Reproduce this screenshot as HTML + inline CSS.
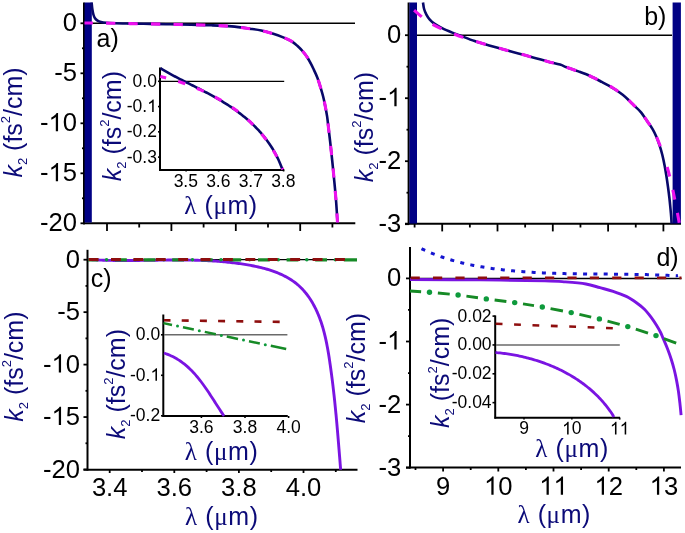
<!DOCTYPE html>
<html><head><meta charset="utf-8"><title>k2 dispersion plots</title>
<style>
html,body{margin:0;padding:0;background:#fff;}
svg{display:block;will-change:transform;filter:blur(0.35px);}
text{font-family:"Liberation Sans", sans-serif;}
</style></head>
<body>
<svg width="685" height="533" viewBox="0 0 685 533" font-family="Liberation Sans, sans-serif">
<rect width="685" height="533" fill="#fff"/>
<g id="pa">
<line x1="80.5" y1="23.3" x2="85" y2="23.3" stroke="#000" stroke-width="1.8" />
<text x="77" y="31.3" font-size="25.6" text-anchor="end" fill="#000" >0</text>
<line x1="82" y1="48.3" x2="85" y2="48.3" stroke="#000" stroke-width="1.8" />
<line x1="80.5" y1="73.3" x2="85" y2="73.3" stroke="#000" stroke-width="1.8" />
<text x="77" y="81.3" font-size="25.6" text-anchor="end" fill="#000" >-5</text>
<line x1="82" y1="98.3" x2="85" y2="98.3" stroke="#000" stroke-width="1.8" />
<line x1="80.5" y1="123.3" x2="85" y2="123.3" stroke="#000" stroke-width="1.8" />
<text x="40" y="131.3" font-size="25.6" fill="#000" >- 0</text>
<path d="M763,0 L583,0 L583,1147 Q518,1085 412.5,1023 Q307,961 223,930 L223,1104 Q374,1175 487,1276 Q600,1377 647,1472 L763,1472 Z" transform="translate(48.52,131.3) scale(0.01250,-0.01250)" fill="#000"/>
<line x1="82" y1="148.3" x2="85" y2="148.3" stroke="#000" stroke-width="1.8" />
<line x1="80.5" y1="173.3" x2="85" y2="173.3" stroke="#000" stroke-width="1.8" />
<text x="40" y="181.3" font-size="25.6" fill="#000" >- 5</text>
<path d="M763,0 L583,0 L583,1147 Q518,1085 412.5,1023 Q307,961 223,930 L223,1104 Q374,1175 487,1276 Q600,1377 647,1472 L763,1472 Z" transform="translate(48.52,181.3) scale(0.01250,-0.01250)" fill="#000"/>
<line x1="82" y1="198.3" x2="85" y2="198.3" stroke="#000" stroke-width="1.8" />
<line x1="80.5" y1="223.3" x2="85" y2="223.3" stroke="#000" stroke-width="1.8" />
<text x="77" y="231.3" font-size="25.6" text-anchor="end" fill="#000" >-20</text>
<line x1="107" y1="223" x2="107" y2="231" stroke="#000" stroke-width="1.8" />
<line x1="139.2" y1="223" x2="139.2" y2="227.5" stroke="#000" stroke-width="1.8" />
<line x1="171.4" y1="223" x2="171.4" y2="231" stroke="#000" stroke-width="1.8" />
<line x1="203.6" y1="223" x2="203.6" y2="227.5" stroke="#000" stroke-width="1.8" />
<line x1="235.8" y1="223" x2="235.8" y2="231" stroke="#000" stroke-width="1.8" />
<line x1="268" y1="223" x2="268" y2="227.5" stroke="#000" stroke-width="1.8" />
<line x1="300.2" y1="223" x2="300.2" y2="231" stroke="#000" stroke-width="1.8" />
<line x1="332.4" y1="223" x2="332.4" y2="227.5" stroke="#000" stroke-width="1.8" />
<line x1="84" y1="2.5" x2="84" y2="224.2" stroke="#000" stroke-width="2" />
<line x1="83" y1="223.3" x2="355.3" y2="223.3" stroke="#000" stroke-width="2" />
<line x1="85" y1="23.3" x2="355" y2="23.3" stroke="#000" stroke-width="1.5" />
<rect x="84.6" y="2.5" width="7.2" height="220" fill="#010184"/>
<path d="M91.6,2.5 C91.72,3.58 92,7 92.3,9 C92.6,11 92.95,12.97 93.4,14.5 C93.85,16.03 94.32,17.18 95,18.2 C95.68,19.22 96.5,19.97 97.5,20.6 C98.5,21.23 99.58,21.63 101,22 C102.42,22.37 103.67,22.58 106,22.8 C108.33,23.02 111,23.17 115,23.3 C119,23.43 124.17,23.5 130,23.6 C135.83,23.7 143.27,23.78 150,23.9 C156.73,24.02 163.58,24.15 170.4,24.3 C177.22,24.45 184.08,24.63 190.9,24.8 C197.72,24.97 204.5,25.03 211.3,25.3 C218.1,25.57 225.25,25.83 231.7,26.4 C238.15,26.97 245.07,28.02 250,28.7 C254.93,29.38 257.55,29.68 261.3,30.5 C265.05,31.32 268.75,32.42 272.5,33.6 C276.25,34.78 280.6,36.3 283.8,37.6 C287,38.9 289.45,40.03 291.7,41.4 C293.95,42.77 295.43,44.12 297.3,45.8 C299.17,47.48 301.22,49.55 302.9,51.5 C304.58,53.45 306.12,55.55 307.4,57.5 C308.68,59.45 309.6,61.32 310.6,63.2 C311.6,65.08 312.28,66.42 313.4,68.8 C314.52,71.18 316.1,74.37 317.3,77.5 C318.5,80.63 319.62,84.4 320.6,87.6 C321.58,90.8 322.43,93.65 323.2,96.7 C323.97,99.75 324.55,102.62 325.2,105.9 C325.85,109.18 326.57,112.88 327.1,116.4 C327.63,119.92 327.85,122.43 328.4,127 C328.95,131.57 329.73,137.88 330.4,143.8 C331.07,149.72 331.75,156.25 332.4,162.5 C333.05,168.75 333.7,175.05 334.3,181.3 C334.9,187.55 335.47,193.13 336,200 C336.53,206.87 337.25,218.75 337.5,222.5" fill="none" stroke="#08086a" stroke-width="2.6" />
<path d="M84.5,23 C87.08,23 94.92,22.95 100,23 C105.08,23.05 110,23.2 115,23.3 C120,23.4 124.17,23.5 130,23.6 C135.83,23.7 143.27,23.78 150,23.9 C156.73,24.02 163.58,24.15 170.4,24.3 C177.22,24.45 184.08,24.63 190.9,24.8 C197.72,24.97 204.5,25.03 211.3,25.3 C218.1,25.57 225.25,25.83 231.7,26.4 C238.15,26.97 245.07,28.02 250,28.7 C254.93,29.38 257.55,29.68 261.3,30.5 C265.05,31.32 268.75,32.42 272.5,33.6 C276.25,34.78 280.6,36.3 283.8,37.6 C287,38.9 289.45,40.03 291.7,41.4 C293.95,42.77 295.43,44.12 297.3,45.8 C299.17,47.48 301.22,49.55 302.9,51.5 C304.58,53.45 306.12,55.55 307.4,57.5 C308.68,59.45 309.6,61.32 310.6,63.2 C311.6,65.08 312.93,67.87 313.4,68.8" fill="none" stroke="#ee11ee" stroke-width="3.1" stroke-dasharray="9.3 13.2" stroke-dashoffset="0.97"/>
<path d="M313.4,68.8 C314.05,70.25 316.1,74.37 317.3,77.5 C318.5,80.63 319.62,84.4 320.6,87.6 C321.58,90.8 322.43,93.65 323.2,96.7 C323.97,99.75 324.55,102.62 325.2,105.9 C325.85,109.18 326.57,112.88 327.1,116.4 C327.63,119.92 327.85,122.43 328.4,127 C328.95,131.57 329.73,137.88 330.4,143.8 C331.07,149.72 331.75,156.25 332.4,162.5 C333.05,168.75 333.7,175.05 334.3,181.3 C334.9,187.55 335.47,193.13 336,200 C336.53,206.87 337.25,218.75 337.5,222.5" fill="none" stroke="#ee11ee" stroke-width="3.1" stroke-dasharray="9.3 13.2" stroke-dashoffset="10.46"/>
<text x="96.5" y="47.2" font-size="25">a)</text>
<text transform="translate(22,177.6) rotate(-90)" font-size="25" fill="#0b0a78" ><tspan font-style="italic">k</tspan><tspan font-size="13" dy="5">2</tspan><tspan dy="-5"> (fs</tspan><tspan font-size="13" dy="-12">2</tspan><tspan dy="12">/cm)</tspan></text>
</g>
<g id="ia">
<line x1="158" y1="81.3" x2="160.5" y2="81.3" stroke="#000" stroke-width="1.6" />
<text x="156.9" y="86.7" font-size="17.5" text-anchor="end" fill="#000" >0.0</text>
<line x1="158" y1="106.57" x2="160.5" y2="106.57" stroke="#000" stroke-width="1.6" />
<text x="126.74" y="111.97" font-size="17.5" fill="#000" >-0. </text>
<path d="M763,0 L583,0 L583,1147 Q518,1085 412.5,1023 Q307,961 223,930 L223,1104 Q374,1175 487,1276 Q600,1377 647,1472 L763,1472 Z" transform="translate(147.17,111.97) scale(0.00854,-0.00854)" fill="#000"/>
<line x1="158" y1="131.84" x2="160.5" y2="131.84" stroke="#000" stroke-width="1.6" />
<text x="156.9" y="137.24" font-size="17.5" text-anchor="end" fill="#000" >-0.2</text>
<line x1="158" y1="157.11" x2="160.5" y2="157.11" stroke="#000" stroke-width="1.6" />
<text x="156.9" y="162.51" font-size="17.5" text-anchor="end" fill="#000" >-0.3</text>
<line x1="186.1" y1="169.5" x2="186.1" y2="171.5" stroke="#000" stroke-width="1.6" />
<text x="185.8" y="187.4" font-size="17.5" text-anchor="middle" fill="#000" >3.5</text>
<line x1="218.6" y1="169.5" x2="218.6" y2="171.5" stroke="#000" stroke-width="1.6" />
<text x="218.3" y="187.4" font-size="17.5" text-anchor="middle" fill="#000" >3.6</text>
<line x1="251.1" y1="169.5" x2="251.1" y2="171.5" stroke="#000" stroke-width="1.6" />
<text x="250.8" y="187.4" font-size="17.5" text-anchor="middle" fill="#000" >3.7</text>
<line x1="283.6" y1="169.5" x2="283.6" y2="171.5" stroke="#000" stroke-width="1.6" />
<text x="283.3" y="187.4" font-size="17.5" text-anchor="middle" fill="#000" >3.8</text>
<line x1="160" y1="67.5" x2="160" y2="170.9" stroke="#000" stroke-width="2" />
<line x1="159" y1="169.9" x2="284.2" y2="169.9" stroke="#000" stroke-width="2" />
<line x1="161" y1="81.3" x2="284.2" y2="81.3" stroke="#000" stroke-width="1.3" />
<path d="M160.6,68.1 L161.87,69.14 L163.16,69.9 L164.45,70.65 L165.75,71.4 L167.06,72.14 L168.38,72.88 L169.7,73.61 L171.02,74.33 L172.35,75.05 L173.68,75.77 L175.02,76.48 L176.36,77.19 L177.71,77.89 L179.06,78.59 L180.41,79.29 L181.76,79.99 L183.12,80.68 L184.48,81.37 L185.84,82.06 L187.2,82.75 L188.57,83.44 L189.93,84.13 L191.3,84.82 L192.66,85.51 L194.03,86.2 L195.4,86.89 L196.76,87.58 L198.13,88.28 L199.49,88.97 L200.86,89.67 L202.22,90.38 L203.58,91.08 L204.94,91.79 L206.29,92.5 L207.65,93.22 L209,93.94 L210.34,94.67 L211.69,95.4 L213.03,96.13 L214.36,96.88 L215.69,97.63 L217.02,98.38 L218.34,99.15 L219.66,99.92 L220.97,100.69 L222.27,101.48 L223.57,102.27 L224.87,103.07 L226.15,103.88 L227.43,104.7 L228.71,105.53 L229.97,106.36 L231.23,107.2 L232.49,108.06 L233.73,108.92 L234.97,109.79 L236.19,110.67 L237.41,111.56 L238.63,112.46 L239.83,113.37 L241.02,114.29 L242.21,115.22 L243.38,116.16 L244.55,117.11 L245.71,118.07 L246.85,119.04 L247.99,120.02 L249.11,121.01 L250.23,122.02 L251.33,123.03 L252.43,124.06 L253.51,125.1 L254.58,126.15 L255.64,127.21 L256.68,128.29 L257.72,129.37 L258.74,130.47 L259.75,131.59 L260.75,132.71 L261.73,133.85 L262.7,135 L263.66,136.16 L264.6,137.34 L265.53,138.53 L266.45,139.73 L267.35,140.95 L268.24,142.18 L269.11,143.43 L269.97,144.69 L270.81,145.96 L271.63,147.25 L272.45,148.55 L273.24,149.87 L274.02,151.21 L274.78,152.56 L275.53,153.92 L276.26,155.3 L276.97,156.69 L277.67,158.1 L278.35,159.53 L279.01,160.97 L279.65,162.43 L280.28,163.91 L280.89,165.4 L281.48,166.91 L282.05,168.43 L282.9,169.3" fill="none" stroke="#08086a" stroke-width="2.6" />
<path d="M160.3,76.3 L161.75,76.86 L163.22,77.22 L164.68,77.59 L166.14,77.97 L167.6,78.36 L169.06,78.75 L170.52,79.16 L171.98,79.58 L173.44,80.01 L174.9,80.44 L176.35,80.89 L177.8,81.34 L179.26,81.81 L180.7,82.28 L182.15,82.77 L183.6,83.26 L185.04,83.76 L186.48,84.28 L187.91,84.8 L189.34,85.33 L190.77,85.87 L192.2,86.43 L193.62,86.99 L195.04,87.56 L196.46,88.14 L197.87,88.74 L199.27,89.34 L200.68,89.95 L202.07,90.57 L203.47,91.2 L204.86,91.85 L206.24,92.5 L207.62,93.16 L208.99,93.83 L210.36,94.52 L211.72,95.21 L213.08,95.91 L214.42,96.63 L215.77,97.35 L217.11,98.09 L218.44,98.83 L219.76,99.59 L221.08,100.36 L222.39,101.13 L223.69,101.92 L224.99,102.72 L226.28,103.53 L227.56,104.35 L228.83,105.18 L230.1,106.02 L231.35,106.87 L232.6,107.73 L233.84,108.6 L235.07,109.49 L236.3,110.38 L237.51,111.29 L238.72,112.2 L239.91,113.13 L241.1,114.07 L242.28,115.02 L243.44,115.98 L244.6,116.95 L245.75,117.94 L246.89,118.93 L248.01,119.94 L249.13,120.95 L250.23,121.98 L251.33,123.02 L252.41,124.07 L253.48,125.13 L254.55,126.2 L255.6,127.29 L256.63,128.38 L257.66,129.49 L258.67,130.61 L259.68,131.74 L260.67,132.88 L261.64,134.04 L262.61,135.2 L263.56,136.38 L264.5,137.57 L265.42,138.77 L266.34,139.98 L267.23,141.21 L268.12,142.44 L268.99,143.69 L269.85,144.95 L270.69,146.22 L271.52,147.5 L272.34,148.8 L273.14,150.11 L273.92,151.42 L274.69,152.76 L275.45,154.1 L276.19,155.46 L276.91,156.82 L277.62,158.2 L278.32,159.6 L278.99,161 L279.66,162.42 L280.3,163.85 L280.93,165.29 L281.54,166.74 L282.14,168.21 L282.9,169.3" fill="none" stroke="#ee11ee" stroke-width="3.1" stroke-dasharray="7.5 12.5" stroke-dashoffset="1.45"/>
<text transform="translate(121,181.3) rotate(-90)" font-size="25" fill="#0b0a78" ><tspan font-style="italic">k</tspan><tspan font-size="13" dy="5">2</tspan><tspan dy="-5"> (fs</tspan><tspan font-size="13" dy="-12">2</tspan><tspan dy="12">/cm)</tspan></text>
<text x="184.2" y="213.5" font-size="25" fill="#0b0a78" letter-spacing="0.6" ><tspan font-family="Liberation Serif">λ</tspan> (<tspan font-family="Liberation Serif">μ</tspan>m)</text>
</g>
<g id="pb">
<line x1="405" y1="35.2" x2="409" y2="35.2" stroke="#000" stroke-width="1.8" />
<text x="401.3" y="43.2" font-size="25.6" text-anchor="end" fill="#000" >0</text>
<line x1="406.5" y1="66.7" x2="409" y2="66.7" stroke="#000" stroke-width="1.8" />
<line x1="405" y1="98.2" x2="409" y2="98.2" stroke="#000" stroke-width="1.8" />
<text x="378.54" y="106.2" font-size="25.6" fill="#000" >- </text>
<path d="M763,0 L583,0 L583,1147 Q518,1085 412.5,1023 Q307,961 223,930 L223,1104 Q374,1175 487,1276 Q600,1377 647,1472 L763,1472 Z" transform="translate(387.06,106.2) scale(0.01250,-0.01250)" fill="#000"/>
<line x1="406.5" y1="129.7" x2="409" y2="129.7" stroke="#000" stroke-width="1.8" />
<line x1="405" y1="161.2" x2="409" y2="161.2" stroke="#000" stroke-width="1.8" />
<text x="401.3" y="169.2" font-size="25.6" text-anchor="end" fill="#000" >-2</text>
<line x1="406.5" y1="192.7" x2="409" y2="192.7" stroke="#000" stroke-width="1.8" />
<line x1="405" y1="224.2" x2="409" y2="224.2" stroke="#000" stroke-width="1.8" />
<text x="401.3" y="232.2" font-size="25.6" text-anchor="end" fill="#000" >-3</text>
<line x1="442.2" y1="223.5" x2="442.2" y2="231.4" stroke="#000" stroke-width="1.8" />
<line x1="469.85" y1="223.5" x2="469.85" y2="227.5" stroke="#000" stroke-width="1.8" />
<line x1="497.5" y1="223.5" x2="497.5" y2="231.4" stroke="#000" stroke-width="1.8" />
<line x1="525.15" y1="223.5" x2="525.15" y2="227.5" stroke="#000" stroke-width="1.8" />
<line x1="552.8" y1="223.5" x2="552.8" y2="231.4" stroke="#000" stroke-width="1.8" />
<line x1="580.45" y1="223.5" x2="580.45" y2="227.5" stroke="#000" stroke-width="1.8" />
<line x1="608.1" y1="223.5" x2="608.1" y2="231.4" stroke="#000" stroke-width="1.8" />
<line x1="635.75" y1="223.5" x2="635.75" y2="227.5" stroke="#000" stroke-width="1.8" />
<line x1="663.4" y1="223.5" x2="663.4" y2="231.4" stroke="#000" stroke-width="1.8" />
<line x1="414.6" y1="223.5" x2="414.6" y2="227.5" stroke="#000" stroke-width="1.8" />
<line x1="408.6" y1="2.5" x2="408.6" y2="224.5" stroke="#000" stroke-width="2" />
<line x1="405" y1="223.7" x2="681" y2="223.7" stroke="#000" stroke-width="2" />
<line x1="417" y1="35.2" x2="672" y2="35.2" stroke="#000" stroke-width="1.5" />
<rect x="409.4" y="2.5" width="7.6" height="221" fill="#010184"/>
<rect x="672.6" y="2.5" width="8.3" height="221" fill="#010184"/>
<path d="M423,2.5 C423.18,3.58 423.53,6.98 424.1,9 C424.67,11.02 425.45,12.82 426.4,14.6 C427.35,16.38 428.48,18.2 429.8,19.7 C431.12,21.2 432.25,22.2 434.3,23.6 C436.35,25 439.1,26.6 442.1,28.1 C445.1,29.6 449.32,31.37 452.3,32.6 C455.28,33.83 456.28,34.08 460,35.5 C463.72,36.92 469.73,39.45 474.6,41.1 C479.47,42.75 484.33,44 489.2,45.4 C494.07,46.8 498.93,48.15 503.8,49.5 C508.67,50.85 513.53,52.18 518.4,53.5 C523.27,54.82 528.13,56.07 533,57.4 C537.87,58.73 543.1,60.3 547.6,61.5 C552.1,62.7 556.82,63.63 560,64.6 C563.18,65.57 563.63,66.17 566.7,67.3 C569.77,68.43 574.52,69.95 578.4,71.4 C582.28,72.85 586.12,74.25 590,76 C593.88,77.75 597.8,79.85 601.7,81.9 C605.6,83.95 609.9,86.17 613.4,88.3 C616.9,90.43 619.98,92.57 622.7,94.7 C625.42,96.83 627.65,99.15 629.7,101.1 C631.75,103.05 633.15,104.57 635,106.4 C636.85,108.23 638.75,109.62 640.8,112.1 C642.85,114.58 645.33,118.47 647.3,121.3 C649.27,124.13 651.07,126.48 652.6,129.1 C654.13,131.72 655.3,134.15 656.5,137 C657.7,139.85 658.82,143.17 659.8,146.2 C660.78,149.23 661.6,151.98 662.4,155.2 C663.2,158.42 663.93,162.03 664.6,165.5 C665.27,168.97 665.83,172.42 666.4,176 C666.97,179.58 667.5,183.33 668,187 C668.5,190.67 668.98,194.33 669.4,198 C669.82,201.67 670.2,205.83 670.5,209 C670.8,212.17 671.02,214.55 671.2,217 C671.38,219.45 671.53,222.58 671.6,223.7" fill="none" stroke="#08086a" stroke-width="2.6" />
<path d="M409.5,6.3 C411,7.6 415.92,11.88 418.5,14.1 C421.08,16.32 422.83,17.98 425,19.6 C427.17,21.22 428.92,22.33 431.5,23.8 C434.08,25.27 436.75,26.7 440.5,28.4 C444.25,30.1 450.25,32.5 454,34 C457.75,35.5 459.57,36.22 463,37.4 C466.43,38.58 470.23,39.77 474.6,41.1 C478.97,42.43 484.33,44 489.2,45.4 C494.07,46.8 498.93,48.15 503.8,49.5 C508.67,50.85 513.53,52.18 518.4,53.5 C523.27,54.82 528.13,56.07 533,57.4 C537.87,58.73 543.1,60.3 547.6,61.5 C552.1,62.7 556.82,63.63 560,64.6 C563.18,65.57 563.63,66.17 566.7,67.3 C569.77,68.43 574.52,69.95 578.4,71.4 C582.28,72.85 586.12,74.25 590,76 C593.88,77.75 597.8,79.85 601.7,81.9 C605.6,83.95 609.9,86.17 613.4,88.3 C616.9,90.43 619.98,92.57 622.7,94.7 C625.42,96.83 627.65,99.15 629.7,101.1 C631.75,103.05 633.15,104.57 635,106.4 C636.85,108.23 638.75,109.62 640.8,112.1 C642.85,114.58 645.33,118.47 647.3,121.3 C649.27,124.13 651.07,126.48 652.6,129.1 C654.13,131.72 655.22,134.13 656.5,137 C657.78,139.87 659.17,143.3 660.3,146.3 C661.43,149.3 662.8,153.55 663.3,155" fill="none" stroke="#ee11ee" stroke-width="3.1" stroke-dasharray="9.9 13.6" stroke-dashoffset="17.52"/>
<path d="M663.3,155 C663.83,156.67 665.5,161.7 666.5,165 C667.5,168.3 668.38,171.3 669.3,174.8 C670.22,178.3 671.17,182.25 672,186 C672.83,189.75 673.55,193.63 674.3,197.3 C675.05,200.97 675.8,204.42 676.5,208 C677.2,211.58 678.03,216.27 678.5,218.8 C678.97,221.33 679.17,222.47 679.3,223.2" fill="none" stroke="#ee11ee" stroke-width="3.1" stroke-dasharray="9.9 13.6" stroke-dashoffset="10.88"/>
<text x="644.2" y="24.8" font-size="25">b)</text>
<text transform="translate(372.6,182.2) rotate(-90)" font-size="25" fill="#0b0a78" ><tspan font-style="italic">k</tspan><tspan font-size="13" dy="5">2</tspan><tspan dy="-5"> (fs</tspan><tspan font-size="13" dy="-12">2</tspan><tspan dy="12">/cm)</tspan></text>
</g>
<g id="pc">
<line x1="83.5" y1="259.7" x2="87.5" y2="259.7" stroke="#000" stroke-width="1.8" />
<text x="80" y="267.7" font-size="25.6" text-anchor="end" fill="#000" >0</text>
<line x1="85.5" y1="285.93" x2="87.5" y2="285.93" stroke="#000" stroke-width="1.8" />
<line x1="83.5" y1="312.15" x2="87.5" y2="312.15" stroke="#000" stroke-width="1.8" />
<text x="80" y="320.15" font-size="25.6" text-anchor="end" fill="#000" >-5</text>
<line x1="85.5" y1="338.38" x2="87.5" y2="338.38" stroke="#000" stroke-width="1.8" />
<line x1="83.5" y1="364.6" x2="87.5" y2="364.6" stroke="#000" stroke-width="1.8" />
<text x="43" y="372.6" font-size="25.6" fill="#000" >- 0</text>
<path d="M763,0 L583,0 L583,1147 Q518,1085 412.5,1023 Q307,961 223,930 L223,1104 Q374,1175 487,1276 Q600,1377 647,1472 L763,1472 Z" transform="translate(51.52,372.6) scale(0.01250,-0.01250)" fill="#000"/>
<line x1="85.5" y1="390.83" x2="87.5" y2="390.83" stroke="#000" stroke-width="1.8" />
<line x1="83.5" y1="417.05" x2="87.5" y2="417.05" stroke="#000" stroke-width="1.8" />
<text x="43" y="425.05" font-size="25.6" fill="#000" >- 5</text>
<path d="M763,0 L583,0 L583,1147 Q518,1085 412.5,1023 Q307,961 223,930 L223,1104 Q374,1175 487,1276 Q600,1377 647,1472 L763,1472 Z" transform="translate(51.52,425.05) scale(0.01250,-0.01250)" fill="#000"/>
<line x1="85.5" y1="443.28" x2="87.5" y2="443.28" stroke="#000" stroke-width="1.8" />
<line x1="83.5" y1="469.5" x2="87.5" y2="469.5" stroke="#000" stroke-width="1.8" />
<text x="80" y="477.5" font-size="25.6" text-anchor="end" fill="#000" >-20</text>
<line x1="109.7" y1="469" x2="109.7" y2="473" stroke="#000" stroke-width="1.8" />
<line x1="142" y1="469" x2="142" y2="472" stroke="#000" stroke-width="1.8" />
<text x="109.7" y="496" font-size="25.6" text-anchor="middle" fill="#000" >3.4</text>
<line x1="174.3" y1="469" x2="174.3" y2="473" stroke="#000" stroke-width="1.8" />
<line x1="206.6" y1="469" x2="206.6" y2="472" stroke="#000" stroke-width="1.8" />
<text x="174.3" y="496" font-size="25.6" text-anchor="middle" fill="#000" >3.6</text>
<line x1="238.9" y1="469" x2="238.9" y2="473" stroke="#000" stroke-width="1.8" />
<line x1="271.2" y1="469" x2="271.2" y2="472" stroke="#000" stroke-width="1.8" />
<text x="238.9" y="496" font-size="25.6" text-anchor="middle" fill="#000" >3.8</text>
<line x1="303.5" y1="469" x2="303.5" y2="473" stroke="#000" stroke-width="1.8" />
<line x1="335.8" y1="469" x2="335.8" y2="472" stroke="#000" stroke-width="1.8" />
<text x="303.5" y="496" font-size="25.6" text-anchor="middle" fill="#000" >4.0</text>
<line x1="87.5" y1="249.8" x2="87.5" y2="470.6" stroke="#000" stroke-width="2" />
<line x1="83.5" y1="469.7" x2="357.5" y2="469.7" stroke="#000" stroke-width="2" />
<line x1="88" y1="259.7" x2="357" y2="259.7" stroke="#000" stroke-width="1.3" />
<path d="M88,259.8 L89.52,259.55 L91.03,259.65 L92.54,259.73 L94.05,259.82 L95.56,259.89 L97.07,259.96 L98.58,260.03 L100.09,260.09 L101.59,260.15 L103.1,260.2 L104.61,260.25 L106.12,260.29 L107.62,260.33 L109.13,260.36 L110.64,260.39 L112.14,260.42 L113.65,260.45 L115.16,260.47 L116.66,260.48 L118.17,260.5 L119.67,260.51 L121.18,260.52 L122.68,260.52 L124.19,260.52 L125.69,260.52 L127.2,260.52 L128.7,260.52 L130.21,260.51 L131.71,260.5 L133.21,260.49 L134.72,260.48 L136.22,260.47 L137.73,260.45 L139.23,260.43 L140.73,260.42 L142.24,260.4 L143.74,260.38 L145.24,260.36 L146.75,260.34 L148.25,260.32 L149.75,260.3 L151.26,260.28 L152.76,260.25 L154.26,260.23 L155.77,260.21 L157.27,260.19 L158.77,260.17 L160.28,260.15 L161.78,260.13 L163.28,260.12 L164.79,260.1 L166.29,260.08 L167.8,260.07 L169.3,260.06 L170.8,260.05 L172.31,260.04 L173.81,260.03 L175.31,260.02 L176.82,260.02 L178.32,260.02 L179.83,260.02 L181.33,260.03 L182.84,260.03 L184.34,260.04 L185.84,260.06 L187.35,260.07 L188.85,260.09 L190.36,260.12 L191.87,260.14 L193.37,260.17 L194.88,260.21 L196.38,260.24 L197.89,260.29 L199.4,260.33 L200.9,260.38 L202.41,260.44 L203.92,260.5 L205.42,260.56 L206.93,260.63 L208.44,260.71 L209.95,260.79 L211.46,260.87 L212.97,260.96 L214.47,261.06 L215.98,261.16 L217.49,261.27 L219,261.38 L220.51,261.5 L222.02,261.63 L223.54,261.76 L225.05,261.9 L226.56,262.05 L228.07,262.2 L229.58,262.36 L231.1,262.53 L232.61,262.7 L234.12,262.88 L235.64,263.07 L237.15,263.27 L238.67,263.47 L240.18,263.69 L241.7,263.91 L243.21,264.14 L244.73,264.38 L246.25,264.62 L247.76,264.88 L249.28,265.14 L250.79,265.42 L252.3,265.7 L253.81,266 L255.32,266.31 L256.82,266.63 L258.32,266.96 L259.81,267.31 L261.29,267.67 L262.77,268.05 L264.25,268.43 L265.72,268.84 L267.17,269.26 L268.62,269.69 L270.07,270.14 L271.5,270.61 L272.92,271.1 L274.33,271.6 L275.73,272.13 L277.12,272.67 L278.49,273.23 L279.85,273.81 L281.2,274.41 L282.54,275.03 L283.86,275.68 L285.16,276.34 L286.45,277.03 L287.72,277.74 L288.98,278.48 L290.22,279.23 L291.44,280.02 L292.64,280.82 L293.82,281.66 L294.98,282.51 L296.12,283.4 L297.24,284.31 L298.34,285.25 L299.42,286.22 L300.47,287.21 L301.5,288.23 L302.51,289.28 L303.5,290.35 L304.46,291.45 L305.41,292.57 L306.33,293.72 L307.23,294.88 L308.1,296.07 L308.96,297.28 L309.8,298.51 L310.61,299.76 L311.4,301.02 L312.18,302.31 L312.93,303.61 L313.66,304.92 L314.37,306.25 L315.06,307.59 L315.74,308.95 L316.39,310.31 L317.02,311.69 L317.63,313.08 L318.22,314.48 L318.8,315.89 L319.35,317.3 L319.89,318.73 L320.41,320.16 L320.91,321.6 L321.4,323.05 L321.87,324.51 L322.33,325.97 L322.77,327.44 L323.19,328.91 L323.6,330.39 L324,331.87 L324.38,333.36 L324.75,334.86 L325.11,336.36 L325.46,337.86 L325.8,339.37 L326.12,340.88 L326.44,342.39 L326.74,343.9 L327.04,345.42 L327.33,346.94 L327.61,348.46 L327.88,349.98 L328.14,351.5 L328.4,353.02 L328.65,354.54 L328.89,356.07 L329.13,357.59 L329.36,359.11 L329.59,360.63 L329.81,362.14 L330.04,363.66 L330.25,365.17 L330.47,366.68 L330.68,368.19 L330.89,369.69 L331.09,371.19 L331.3,372.7 L331.5,374.2 L331.69,375.69 L331.89,377.19 L332.08,378.68 L332.27,380.18 L332.45,381.67 L332.64,383.16 L332.82,384.64 L333,386.13 L333.17,387.62 L333.34,389.1 L333.52,390.59 L333.69,392.07 L333.85,393.55 L334.02,395.03 L334.18,396.51 L334.34,397.99 L334.5,399.47 L334.66,400.95 L334.81,402.43 L334.96,403.91 L335.11,405.38 L335.26,406.86 L335.41,408.34 L335.56,409.82 L335.7,411.3 L335.84,412.78 L335.99,414.25 L336.13,415.73 L336.26,417.21 L336.4,418.69 L336.54,420.17 L336.67,421.65 L336.81,423.14 L336.94,424.62 L337.07,426.1 L337.2,427.59 L337.33,429.07 L337.46,430.56 L337.59,432.05 L337.72,433.54 L337.84,435.03 L337.97,436.52 L338.09,438.02 L338.22,439.51 L338.34,441.01 L338.46,442.51 L338.59,444.01 L338.71,445.52 L338.83,447.02 L338.95,448.53 L339.08,450.04 L339.2,451.55 L339.32,453.07 L339.44,454.59 L339.56,456.11 L339.69,457.63 L339.81,459.16 L339.93,460.68 L340.05,462.21 L340.17,463.75 L340.3,465.29 L340.42,466.83 L340.54,468.37 L340.6,469.8" fill="none" stroke="#7a14e2" stroke-width="2.9" />
<path d="M88,259.8 L98.2,259.8 M115,259.8 L126.8,259.8 M143.6,259.8 L155.4,259.8 M172.2,259.8 L184,259.8 M200.8,259.8 L212.6,259.8 M229.4,259.8 L241.2,259.8 M258,259.8 L269.8,259.8 M286.6,259.8 L298.4,259.8 M315.2,259.8 L327,259.8 M343.8,259.8 L357,259.8" stroke="#168a26" stroke-width="3.2" fill="none"/>
<circle cx="106.6" cy="259.8" r="1.8" fill="#0e9a3c"/>
<circle cx="135.2" cy="259.8" r="1.8" fill="#0e9a3c"/>
<circle cx="163.8" cy="259.8" r="1.8" fill="#0e9a3c"/>
<circle cx="192.4" cy="259.8" r="1.8" fill="#0e9a3c"/>
<circle cx="221" cy="259.8" r="1.8" fill="#0e9a3c"/>
<circle cx="249.6" cy="259.8" r="1.8" fill="#0e9a3c"/>
<circle cx="278.2" cy="259.8" r="1.8" fill="#0e9a3c"/>
<circle cx="306.8" cy="259.8" r="1.8" fill="#0e9a3c"/>
<circle cx="335.4" cy="259.8" r="1.8" fill="#0e9a3c"/>
<path d="M88.6,259.5 L357,259.5" fill="none" stroke="#8e0e0e" stroke-width="3.2" stroke-dasharray="9.9 12.5"/>
<text x="90.8" y="287" font-size="25">c)</text>
<text transform="translate(22.6,421.8) rotate(-90)" font-size="25" fill="#0b0a78" ><tspan font-style="italic">k</tspan><tspan font-size="13" dy="5">2</tspan><tspan dy="-5"> (fs</tspan><tspan font-size="13" dy="-12">2</tspan><tspan dy="12">/cm)</tspan></text>
<text x="185" y="524.5" font-size="25" fill="#0b0a78" letter-spacing="0.6" ><tspan font-family="Liberation Serif">λ</tspan> (<tspan font-family="Liberation Serif">μ</tspan>m)</text>
</g>
<g id="ic">
<line x1="161" y1="334.8" x2="163.5" y2="334.8" stroke="#000" stroke-width="1.6" />
<text x="160.2" y="340.2" font-size="17.5" text-anchor="end" fill="#000" >0.0</text>
<line x1="161" y1="375.3" x2="163.5" y2="375.3" stroke="#000" stroke-width="1.6" />
<text x="130.04" y="380.7" font-size="17.5" fill="#000" >-0. </text>
<path d="M763,0 L583,0 L583,1147 Q518,1085 412.5,1023 Q307,961 223,930 L223,1104 Q374,1175 487,1276 Q600,1377 647,1472 L763,1472 Z" transform="translate(150.47,380.7) scale(0.00854,-0.00854)" fill="#000"/>
<line x1="161" y1="415.8" x2="163.5" y2="415.8" stroke="#000" stroke-width="1.6" />
<text x="160.2" y="421.2" font-size="17.5" text-anchor="end" fill="#000" >-0.2</text>
<line x1="201.4" y1="416" x2="201.4" y2="418" stroke="#000" stroke-width="1.6" />
<text x="201.4" y="433.2" font-size="17.5" text-anchor="middle" fill="#000" >3.6</text>
<line x1="245" y1="416" x2="245" y2="418" stroke="#000" stroke-width="1.6" />
<text x="245" y="433.2" font-size="17.5" text-anchor="middle" fill="#000" >3.8</text>
<line x1="288.6" y1="416" x2="288.6" y2="418" stroke="#000" stroke-width="1.6" />
<text x="288.6" y="433.2" font-size="17.5" text-anchor="middle" fill="#000" >4.0</text>
<line x1="163.3" y1="314.5" x2="163.3" y2="417" stroke="#000" stroke-width="2" />
<line x1="162.5" y1="415.9" x2="287.8" y2="415.9" stroke="#000" stroke-width="2" />
<line x1="164" y1="334.8" x2="287.4" y2="334.8" stroke="#6a6a6a" stroke-width="1.5" />
<path d="M164,320.3 L280,321.9" fill="none" stroke="#8e0e0e" stroke-width="2.6" stroke-dasharray="7 11.2" stroke-dashoffset="0.5"/>
<path d="M163.5,323.1 L172.02,324.93 M182.98,327.26 L193.82,329.54 M204.78,331.87 L215.82,334.23 M226.78,336.56 L238.02,338.94 M248.98,341.26 L259.82,343.54 M270.79,345.83 L286.2,349" stroke="#168a26" stroke-width="2.5" fill="none"/>
<circle cx="177.5" cy="326.1" r="1.5" fill="#0e9a3c"/>
<circle cx="199.3" cy="330.7" r="1.5" fill="#0e9a3c"/>
<circle cx="221.3" cy="335.4" r="1.5" fill="#0e9a3c"/>
<circle cx="243.5" cy="340.1" r="1.5" fill="#0e9a3c"/>
<circle cx="265.3" cy="344.7" r="1.5" fill="#0e9a3c"/>
<path d="M164,353 L165.39,353.54 L166.9,354.08 L168.38,354.66 L169.84,355.27 L171.27,355.91 L172.67,356.59 L174.05,357.29 L175.4,358.03 L176.73,358.79 L178.03,359.59 L179.31,360.41 L180.57,361.26 L181.81,362.14 L183.02,363.04 L184.22,363.96 L185.39,364.92 L186.54,365.89 L187.68,366.88 L188.79,367.9 L189.89,368.94 L190.97,370 L192.03,371.07 L193.08,372.17 L194.11,373.28 L195.12,374.41 L196.12,375.56 L197.11,376.72 L198.08,377.89 L199.04,379.08 L199.99,380.28 L200.93,381.5 L201.85,382.72 L202.77,383.96 L203.67,385.2 L204.57,386.45 L205.45,387.72 L206.33,388.98 L207.2,390.26 L208.07,391.54 L208.92,392.82 L209.78,394.11 L210.62,395.4 L211.46,396.7 L212.3,397.99 L213.13,399.29 L213.96,400.59 L214.79,401.88 L215.62,403.17 L216.44,404.47 L217.27,405.75 L218.09,407.04 L218.91,408.32 L219.74,409.59 L220.57,410.86 L221.4,412.12 L222.23,413.37 L223.06,414.61 L224.1,415.8" fill="none" stroke="#7a14e2" stroke-width="2.8" />
<text transform="translate(124.5,439.3) rotate(-90)" font-size="25" fill="#0b0a78" ><tspan font-style="italic">k</tspan><tspan font-size="13" dy="5">2</tspan><tspan dy="-5"> (fs</tspan><tspan font-size="13" dy="-12">2</tspan><tspan dy="12">/cm)</tspan></text>
<text x="184.8" y="460" font-size="25" fill="#0b0a78" letter-spacing="0.6" ><tspan font-family="Liberation Serif">λ</tspan> (<tspan font-family="Liberation Serif">μ</tspan>m)</text>
</g>
<g id="pd">
<line x1="406" y1="278.4" x2="410" y2="278.4" stroke="#000" stroke-width="1.8" />
<text x="401.3" y="286.4" font-size="25.6" text-anchor="end" fill="#000" >0</text>
<line x1="408" y1="309.95" x2="410" y2="309.95" stroke="#000" stroke-width="1.8" />
<line x1="406" y1="341.5" x2="410" y2="341.5" stroke="#000" stroke-width="1.8" />
<text x="378.54" y="349.5" font-size="25.6" fill="#000" >- </text>
<path d="M763,0 L583,0 L583,1147 Q518,1085 412.5,1023 Q307,961 223,930 L223,1104 Q374,1175 487,1276 Q600,1377 647,1472 L763,1472 Z" transform="translate(387.06,349.5) scale(0.01250,-0.01250)" fill="#000"/>
<line x1="408" y1="373.05" x2="410" y2="373.05" stroke="#000" stroke-width="1.8" />
<line x1="406" y1="404.6" x2="410" y2="404.6" stroke="#000" stroke-width="1.8" />
<text x="401.3" y="412.6" font-size="25.6" text-anchor="end" fill="#000" >-2</text>
<line x1="408" y1="436.15" x2="410" y2="436.15" stroke="#000" stroke-width="1.8" />
<line x1="406" y1="467.7" x2="410" y2="467.7" stroke="#000" stroke-width="1.8" />
<text x="401.3" y="475.7" font-size="25.6" text-anchor="end" fill="#000" >-3</text>
<line x1="443.1" y1="467" x2="443.1" y2="471.5" stroke="#000" stroke-width="1.8" />
<line x1="470.7" y1="467" x2="470.7" y2="470" stroke="#000" stroke-width="1.8" />
<text x="443.1" y="494.8" font-size="25.6" text-anchor="middle" fill="#000" >9</text>
<line x1="498.3" y1="467" x2="498.3" y2="471.5" stroke="#000" stroke-width="1.8" />
<line x1="525.9" y1="467" x2="525.9" y2="470" stroke="#000" stroke-width="1.8" />
<text x="484.06" y="494.8" font-size="25.6" fill="#000" > 0</text>
<path d="M763,0 L583,0 L583,1147 Q518,1085 412.5,1023 Q307,961 223,930 L223,1104 Q374,1175 487,1276 Q600,1377 647,1472 L763,1472 Z" transform="translate(484.06,494.8) scale(0.01250,-0.01250)" fill="#000"/>
<line x1="553.5" y1="467" x2="553.5" y2="471.5" stroke="#000" stroke-width="1.8" />
<line x1="581.1" y1="467" x2="581.1" y2="470" stroke="#000" stroke-width="1.8" />
<text x="539.26" y="494.8" font-size="25.6" fill="#000" >  </text>
<path d="M763,0 L583,0 L583,1147 Q518,1085 412.5,1023 Q307,961 223,930 L223,1104 Q374,1175 487,1276 Q600,1377 647,1472 L763,1472 Z" transform="translate(539.26,494.8) scale(0.01250,-0.01250)" fill="#000"/>
<path d="M763,0 L583,0 L583,1147 Q518,1085 412.5,1023 Q307,961 223,930 L223,1104 Q374,1175 487,1276 Q600,1377 647,1472 L763,1472 Z" transform="translate(553.5,494.8) scale(0.01250,-0.01250)" fill="#000"/>
<line x1="608.7" y1="467" x2="608.7" y2="471.5" stroke="#000" stroke-width="1.8" />
<line x1="636.3" y1="467" x2="636.3" y2="470" stroke="#000" stroke-width="1.8" />
<text x="594.46" y="494.8" font-size="25.6" fill="#000" > 2</text>
<path d="M763,0 L583,0 L583,1147 Q518,1085 412.5,1023 Q307,961 223,930 L223,1104 Q374,1175 487,1276 Q600,1377 647,1472 L763,1472 Z" transform="translate(594.46,494.8) scale(0.01250,-0.01250)" fill="#000"/>
<line x1="663.9" y1="467" x2="663.9" y2="471.5" stroke="#000" stroke-width="1.8" />
<text x="649.66" y="494.8" font-size="25.6" fill="#000" > 3</text>
<path d="M763,0 L583,0 L583,1147 Q518,1085 412.5,1023 Q307,961 223,930 L223,1104 Q374,1175 487,1276 Q600,1377 647,1472 L763,1472 Z" transform="translate(649.66,494.8) scale(0.01250,-0.01250)" fill="#000"/>
<line x1="415.5" y1="467" x2="415.5" y2="470" stroke="#000" stroke-width="1.8" />
<line x1="410" y1="247" x2="410" y2="468.6" stroke="#000" stroke-width="2" />
<line x1="406" y1="467.6" x2="681" y2="467.6" stroke="#000" stroke-width="2" />
<line x1="410" y1="278.4" x2="681.5" y2="278.4" stroke="#000" stroke-width="1.5" />
<path d="M410,279.5 C421.67,279.57 457.5,279.67 480,279.9 C502.5,280.13 530.77,280.57 545,280.9 C559.23,281.23 558.58,281.38 565.4,281.9 C572.22,282.42 580.13,283.03 585.9,284 C591.67,284.97 595.47,286.48 600,287.7 C604.53,288.92 608.72,289.85 613.1,291.3 C617.48,292.75 622.35,294.45 626.3,296.4 C630.25,298.35 633.73,300.82 636.8,303 C639.87,305.18 642.3,307.1 644.7,309.5 C647.1,311.9 649.23,314.77 651.2,317.4 C653.17,320.03 654.93,322.78 656.5,325.3 C658.07,327.82 659.42,330.13 660.6,332.5 C661.78,334.87 662.43,336.75 663.6,339.5 C664.77,342.25 666.32,345.67 667.6,349 C668.88,352.33 670.18,356 671.3,359.5 C672.42,363 673.42,366.48 674.3,370 C675.18,373.52 675.92,377.08 676.6,380.6 C677.28,384.12 677.85,387.33 678.4,391.1 C678.95,394.87 679.45,399.18 679.9,403.2 C680.35,407.22 680.9,413.2 681.1,415.2" fill="none" stroke="#7a14e2" stroke-width="2.9" />
<path d="M410.6,277.8 L681.5,277.8" fill="none" stroke="#8e0e0e" stroke-width="2.7" stroke-dasharray="9.2 13.2"/>
<path d="M420,246.8 L420.89,248.38 L422.27,249.04 L423.65,249.69 L425.04,250.33 L426.43,250.95 L427.83,251.56 L429.23,252.16 L430.63,252.75 L432.03,253.33 L433.44,253.89 L434.85,254.45 L436.27,254.99 L437.68,255.52 L439.1,256.04 L440.52,256.54 L441.95,257.04 L443.38,257.52 L444.81,258 L446.25,258.46 L447.68,258.92 L449.12,259.36 L450.56,259.8 L452.01,260.22 L453.46,260.63 L454.91,261.04 L456.36,261.43 L457.81,261.82 L459.27,262.2 L460.73,262.56 L462.19,262.92 L463.65,263.27 L465.12,263.61 L466.58,263.95 L468.05,264.27 L469.52,264.59 L471,264.89 L472.47,265.19 L473.95,265.49 L475.43,265.77 L476.91,266.05 L478.39,266.32 L479.87,266.58 L481.36,266.84 L482.85,267.09 L484.33,267.33 L485.82,267.57 L487.32,267.8 L488.81,268.02 L490.3,268.24 L491.8,268.45 L493.29,268.65 L494.79,268.85 L496.29,269.05 L497.79,269.24 L499.29,269.42 L500.79,269.6 L502.29,269.77 L503.79,269.94 L505.29,270.11 L506.8,270.27 L508.3,270.42 L509.81,270.57 L511.32,270.72 L512.82,270.86 L514.33,271 L515.84,271.13 L517.35,271.26 L518.86,271.38 L520.37,271.51 L521.88,271.62 L523.39,271.74 L524.9,271.85 L526.42,271.95 L527.93,272.05 L529.44,272.15 L530.96,272.25 L532.47,272.34 L533.99,272.43 L535.5,272.51 L537.02,272.6 L538.54,272.67 L540.05,272.75 L541.57,272.82 L543.09,272.89 L544.61,272.96 L546.12,273.02 L547.64,273.08 L549.16,273.14 L550.68,273.2 L552.2,273.25 L553.72,273.3 L555.24,273.35 L556.76,273.4 L558.28,273.44 L559.81,273.49 L561.33,273.53 L562.85,273.56 L564.37,273.6 L565.89,273.64 L567.41,273.67 L568.94,273.7 L570.46,273.73 L571.98,273.75 L573.5,273.78 L575.03,273.81 L576.55,273.83 L578.07,273.85 L579.59,273.87 L581.12,273.89 L582.64,273.91 L584.16,273.93 L585.68,273.94 L587.21,273.96 L588.73,273.97 L590.25,273.99 L591.77,274 L593.3,274.01 L594.82,274.02 L596.34,274.04 L597.86,274.05 L599.38,274.06 L600.9,274.07 L602.42,274.08 L603.95,274.09 L605.47,274.1 L606.99,274.11 L608.51,274.12 L610.03,274.13 L611.55,274.14 L613.06,274.15 L614.58,274.16 L616.1,274.18 L617.62,274.19 L619.14,274.2 L620.65,274.22 L622.17,274.23 L623.69,274.25 L625.2,274.26 L626.72,274.28 L628.23,274.3 L629.75,274.32 L631.26,274.34 L632.77,274.36 L634.29,274.38 L635.8,274.4 L637.31,274.43 L638.82,274.46 L640.33,274.49 L641.84,274.52 L643.35,274.55 L644.86,274.58 L646.37,274.62 L647.88,274.66 L649.38,274.7 L650.89,274.74 L652.39,274.78 L653.9,274.83 L655.4,274.88 L656.9,274.93 L658.41,274.98 L659.91,275.04 L661.41,275.09 L662.91,275.16 L664.41,275.22 L665.9,275.29 L667.4,275.35 L668.9,275.43 L670.39,275.5 L671.88,275.58 L673.38,275.66 L674.87,275.75 L676.36,275.83 L678,275.5" fill="none" stroke="#1515d0" stroke-width="3" stroke-dasharray="4 6.3" stroke-dashoffset="7.77"/>
<path d="M410,291 L421.12,291.68 M437.86,293.02 L449.74,294.18 M466.42,296.15 L477.98,297.75 M494.63,299.99 L506.37,301.51 M523,303.92 L534,305.68 M550.55,308.6 L562.95,311 M579.4,314.43 L591.2,317.07 M607.51,321.1 L619.69,324.4 M635.8,329.15 L648,333.05 M663.86,338.56 L676.2,343.2" stroke="#168a26" stroke-width="2.9" fill="none"/>
<circle cx="429.5" cy="292.2" r="2.7" fill="#0e9a3c"/>
<circle cx="458.1" cy="295" r="2.7" fill="#0e9a3c"/>
<circle cx="486.3" cy="298.9" r="2.7" fill="#0e9a3c"/>
<circle cx="514.7" cy="302.6" r="2.7" fill="#0e9a3c"/>
<circle cx="542.3" cy="307" r="2.7" fill="#0e9a3c"/>
<circle cx="571.2" cy="312.6" r="2.7" fill="#0e9a3c"/>
<circle cx="599.4" cy="318.9" r="2.7" fill="#0e9a3c"/>
<circle cx="627.8" cy="326.6" r="2.7" fill="#0e9a3c"/>
<circle cx="656" cy="335.6" r="2.7" fill="#0e9a3c"/>
<text x="656.4" y="266" font-size="25">d)</text>
<text transform="translate(364.5,423.2) rotate(-90)" font-size="25" fill="#0b0a78" ><tspan font-style="italic">k</tspan><tspan font-size="13" dy="5">2</tspan><tspan dy="-5"> (fs</tspan><tspan font-size="13" dy="-12">2</tspan><tspan dy="12">/cm)</tspan></text>
<text x="517.4" y="522.8" font-size="25" fill="#0b0a78" letter-spacing="0.6" ><tspan font-family="Liberation Serif">λ</tspan> (<tspan font-family="Liberation Serif">μ</tspan>m)</text>
</g>
<g id="id">
<line x1="492.5" y1="316.1" x2="495.5" y2="316.1" stroke="#000" stroke-width="1.6" />
<text x="491.6" y="321.5" font-size="17.5" text-anchor="end" fill="#000" >0.02</text>
<line x1="492.5" y1="344.95" x2="495.5" y2="344.95" stroke="#000" stroke-width="1.6" />
<text x="491.6" y="350.35" font-size="17.5" text-anchor="end" fill="#000" >0.00</text>
<line x1="492.5" y1="373.8" x2="495.5" y2="373.8" stroke="#000" stroke-width="1.6" />
<text x="491.6" y="379.2" font-size="17.5" text-anchor="end" fill="#000" >-0.02</text>
<line x1="492.5" y1="402.65" x2="495.5" y2="402.65" stroke="#000" stroke-width="1.6" />
<text x="491.6" y="408.05" font-size="17.5" text-anchor="end" fill="#000" >-0.04</text>
<line x1="524" y1="417.5" x2="524" y2="419.6" stroke="#000" stroke-width="1.6" />
<text x="524" y="434.4" font-size="17.5" text-anchor="middle" fill="#000" >9</text>
<line x1="571.85" y1="417.5" x2="571.85" y2="419.6" stroke="#000" stroke-width="1.6" />
<text x="562.12" y="434.4" font-size="17.5" fill="#000" > 0</text>
<path d="M763,0 L583,0 L583,1147 Q518,1085 412.5,1023 Q307,961 223,930 L223,1104 Q374,1175 487,1276 Q600,1377 647,1472 L763,1472 Z" transform="translate(562.12,434.4) scale(0.00854,-0.00854)" fill="#000"/>
<line x1="619.7" y1="417.5" x2="619.7" y2="419.6" stroke="#000" stroke-width="1.6" />
<text x="609.97" y="434.4" font-size="17.5" fill="#000" >  </text>
<path d="M763,0 L583,0 L583,1147 Q518,1085 412.5,1023 Q307,961 223,930 L223,1104 Q374,1175 487,1276 Q600,1377 647,1472 L763,1472 Z" transform="translate(609.97,434.4) scale(0.00854,-0.00854)" fill="#000"/>
<path d="M763,0 L583,0 L583,1147 Q518,1085 412.5,1023 Q307,961 223,930 L223,1104 Q374,1175 487,1276 Q600,1377 647,1472 L763,1472 Z" transform="translate(619.7,434.4) scale(0.00854,-0.00854)" fill="#000"/>
<line x1="495.2" y1="315.5" x2="495.2" y2="418.7" stroke="#000" stroke-width="2" />
<line x1="494.5" y1="417.8" x2="620" y2="417.8" stroke="#000" stroke-width="2" />
<line x1="496" y1="345" x2="619.8" y2="345" stroke="#6a6a6a" stroke-width="1.5" />
<path d="M495.7,323.8 L613,328.2" fill="none" stroke="#8e0e0e" stroke-width="2.6" stroke-dasharray="6.8 11.6"/>
<path d="M495.5,352.4 L497.04,352.68 L498.53,352.83 L500.02,352.98 L501.51,353.14 L503,353.32 L504.49,353.51 L505.99,353.71 L507.48,353.92 L508.98,354.15 L510.47,354.38 L511.96,354.63 L513.46,354.89 L514.95,355.16 L516.44,355.45 L517.93,355.74 L519.42,356.05 L520.91,356.37 L522.4,356.7 L523.88,357.05 L525.36,357.4 L526.84,357.77 L528.32,358.15 L529.8,358.54 L531.27,358.95 L532.74,359.37 L534.21,359.8 L535.67,360.24 L537.13,360.7 L538.58,361.16 L540.04,361.64 L541.48,362.13 L542.93,362.64 L544.37,363.16 L545.8,363.69 L547.23,364.23 L548.65,364.78 L550.07,365.35 L551.48,365.93 L552.89,366.53 L554.29,367.13 L555.68,367.75 L557.07,368.38 L558.45,369.03 L559.83,369.68 L561.2,370.36 L562.56,371.04 L563.91,371.73 L565.26,372.44 L566.6,373.17 L567.93,373.9 L569.25,374.65 L570.56,375.41 L571.87,376.19 L573.17,376.97 L574.45,377.78 L575.73,378.59 L577,379.42 L578.26,380.26 L579.51,381.11 L580.75,381.98 L581.98,382.86 L583.2,383.75 L584.41,384.66 L585.61,385.58 L586.8,386.52 L587.97,387.47 L589.14,388.43 L590.29,389.4 L591.43,390.39 L592.56,391.4 L593.68,392.41 L594.79,393.44 L595.88,394.49 L596.96,395.54 L598.03,396.61 L599.08,397.7 L600.12,398.8 L601.15,399.91 L602.17,401.04 L603.17,402.18 L604.15,403.33 L605.12,404.5 L606.08,405.68 L607.02,406.88 L607.95,408.09 L608.87,409.32 L609.76,410.56 L610.65,411.81 L611.51,413.08 L612.36,414.36 L613.2,415.65 L613.6,417.1" fill="none" stroke="#7a14e2" stroke-width="2.8" />
<text transform="translate(448.5,428) rotate(-90)" font-size="25" fill="#0b0a78" ><tspan font-style="italic">k</tspan><tspan font-size="13" dy="5">2</tspan><tspan dy="-5"> (fs</tspan><tspan font-size="13" dy="-12">2</tspan><tspan dy="12">/cm)</tspan></text>
<text x="535.3" y="457" font-size="25" fill="#0b0a78" letter-spacing="0.6" ><tspan font-family="Liberation Serif">λ</tspan> (<tspan font-family="Liberation Serif">μ</tspan>m)</text>
</g>
</svg>
</body></html>
